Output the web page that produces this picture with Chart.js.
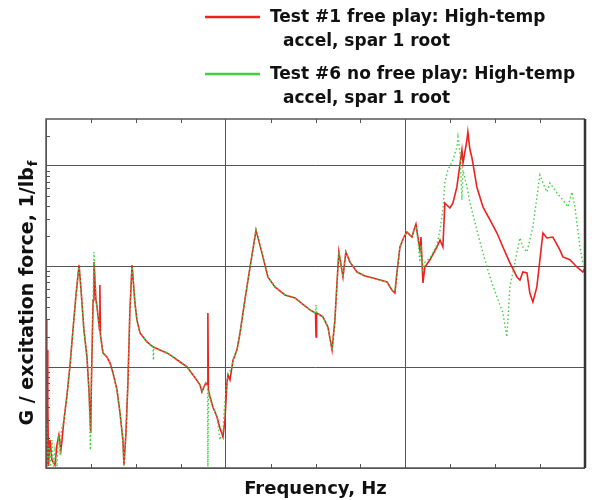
<!DOCTYPE html>
<html>
<head>
<meta charset="utf-8">
<script src="https://cdn.jsdelivr.net/npm/chart.js@4.4.1/dist/chart.umd.min.js"></script>
<style>
  body { margin: 0; background: #fff; }
  canvas { display: block; }
</style>
</head>
<body>
<canvas id="frf-chart" width="592" height="500"></canvas>
<script>
// Test #1 (free play) - frequency and response
const freq1 = [
  0.02, 0.045, 0.07, 0.09, 0.11, 0.14, 0.22, 0.33, 0.50, 0.61,
  0.72, 0.83, 0.89, 1.00, 1.17, 1.34, 1.50, 1.67, 1.84, 1.95,
  2.11, 2.28, 2.39, 2.49, 2.52, 2.62, 2.67, 2.78, 2.84, 2.98,
  3.00, 3.03, 3.17, 3.39, 3.56, 3.73, 3.95, 4.12, 4.28, 4.34,
  4.45, 4.56, 4.67, 4.79, 4.95, 5.06, 5.23, 5.62, 5.95, 6.34,
  6.73, 7.07, 7.46, 7.85, 8.18, 8.57, 8.68, 8.79, 8.90, 8.99,
  9.01, 9.04, 9.13, 9.29, 9.52, 9.68, 9.85, 9.96, 10.07, 10.13,
  10.24, 10.35, 10.41, 10.63, 10.80, 11.07, 11.35, 11.69, 12.02, 12.35,
  12.74, 13.30, 13.86, 14.13, 14.69, 15.00, 15.03, 15.06, 15.25, 15.41,
  15.69, 15.92, 16.08, 16.19, 16.30, 16.42, 16.53, 16.69, 16.92, 17.31,
  17.75, 18.20, 18.98, 19.25, 19.42, 19.53, 19.70, 19.92, 20.09, 20.26,
  20.37, 20.48, 20.59, 20.70, 20.81, 20.87, 20.98, 21.09, 21.37, 21.76,
  21.93, 22.09, 22.20, 22.48, 22.65, 22.87, 23.15, 23.21, 23.43, 23.48,
  23.60, 23.71, 23.76, 23.98, 24.15, 24.32, 24.71, 25.10, 25.43, 25.82,
  26.21, 26.38, 26.54, 26.77, 26.93, 27.10, 27.32, 27.49, 27.66, 27.88,
  28.21, 28.60, 28.77, 29.16, 29.55, 29.88, 30.00
];
const resp1 = [
  0.0296, 0.00103, 0.0149, 0.00120, 0.0045, 0.00105, 0.00190, 0.00120, 0.00107, 0.00170,
  0.00213, 0.00151, 0.00190, 0.00300, 0.00532, 0.0106, 0.0235, 0.0524, 0.104, 0.0587,
  0.0235, 0.0127, 0.00597, 0.00223, 0.00597, 0.0467, 0.111, 0.0467, 0.0398, 0.0235,
  0.0658, 0.0210, 0.0139, 0.0127, 0.0111, 0.00879, 0.00597, 0.00352, 0.00190, 0.00107,
  0.00223, 0.00700, 0.0372, 0.104, 0.0436, 0.0296, 0.0220, 0.0179, 0.0160, 0.0149,
  0.0139, 0.0127, 0.0113, 0.0101, 0.00841, 0.00669, 0.00570, 0.00638, 0.00700, 0.00669,
  0.0347, 0.00597, 0.00508, 0.00404, 0.00321, 0.00250, 0.00204, 0.00300, 0.00700, 0.00841,
  0.00750, 0.0101, 0.0118, 0.0149, 0.0220, 0.0467, 0.097, 0.231, 0.137, 0.0790,
  0.0629, 0.0524, 0.0489, 0.0446, 0.0372, 0.0347, 0.0200, 0.0347, 0.0331, 0.0317,
  0.0252, 0.0149, 0.0296, 0.0658, 0.140, 0.104, 0.0790, 0.140, 0.111, 0.0885,
  0.0809, 0.0772, 0.0705, 0.0587, 0.0548, 0.0866, 0.157, 0.197, 0.221, 0.206,
  0.197, 0.231, 0.265, 0.197, 0.147, 0.197, 0.0689, 0.0993, 0.117, 0.157,
  0.184, 0.157, 0.429, 0.383, 0.429, 0.619, 1.44, 1.07, 1.81, 2.18,
  1.44, 1.20, 1.07, 0.619, 0.492, 0.392, 0.291, 0.216, 0.157, 0.109,
  0.0790, 0.0738, 0.0885, 0.0866, 0.0548, 0.0446, 0.0629, 0.117, 0.216, 0.193,
  0.197, 0.147, 0.125, 0.117, 0.0993, 0.0885, 0.097
];

// Test #6 (no free play)
const freq6 = [
  0.03, 0.08, 0.17, 0.25, 0.33, 0.42, 0.50, 0.61, 0.70, 0.78,
  0.86, 1.00, 1.17, 1.34, 1.50, 1.67, 1.84, 1.95, 2.11, 2.28,
  2.39, 2.47, 2.52, 2.62, 2.67, 2.78, 2.84, 3.00, 3.17, 3.39,
  3.56, 3.73, 3.95, 4.12, 4.28, 4.34, 4.45, 4.56, 4.67, 4.79,
  4.95, 5.06, 5.23, 5.62, 5.95, 5.98, 6.01, 6.34, 6.73, 7.07,
  7.46, 7.85, 8.18, 8.57, 8.68, 8.79, 8.90, 8.99, 9.01, 9.04,
  9.13, 9.29, 9.52, 9.68, 9.85, 9.96, 10.07, 10.13, 10.35, 10.41,
  10.63, 10.80, 11.07, 11.35, 11.69, 12.02, 12.35, 12.74, 13.30, 13.86,
  14.13, 14.69, 15.00, 15.03, 15.06, 15.25, 15.41, 15.69, 15.92, 16.08,
  16.19, 16.30, 16.42, 16.53, 16.69, 16.92, 17.31, 17.75, 18.20, 18.98,
  19.25, 19.42, 19.53, 19.70, 19.92, 20.09, 20.26, 20.37, 20.48, 20.59,
  20.70, 20.81, 20.87, 20.98, 21.09, 21.37, 21.76, 21.93, 22.09, 22.20,
  22.37, 22.65, 22.87, 22.93, 23.04, 23.15, 23.21, 23.43, 23.60, 23.98,
  24.32, 24.71, 25.10, 25.43, 25.65, 25.82, 26.21, 26.38, 26.54, 26.77,
  27.10, 27.49, 27.66, 27.88, 28.05, 28.44, 28.77, 29.05, 29.27, 29.44,
  29.72, 29.88, 30.00
];
const resp6 = [
  0.00300, 0.00103, 0.00170, 0.00103, 0.00190, 0.00103, 0.00151, 0.00103, 0.00213, 0.00135,
  0.00239, 0.00300, 0.00532, 0.0106, 0.0235, 0.0524, 0.104, 0.0587, 0.0235, 0.0127,
  0.00597, 0.00151, 0.00597, 0.0467, 0.140, 0.0467, 0.0398, 0.0220, 0.0139, 0.0127,
  0.0111, 0.00879, 0.00597, 0.00352, 0.00190, 0.00103, 0.00223, 0.00700, 0.0372, 0.104,
  0.0436, 0.0296, 0.0220, 0.0179, 0.0160, 0.0118, 0.0160, 0.0149, 0.0139, 0.0127,
  0.0113, 0.0101, 0.00841, 0.00669, 0.00570, 0.00638, 0.00700, 0.00669, 0.00103, 0.00597,
  0.00508, 0.00404, 0.00321, 0.00190, 0.00239, 0.00475, 0.00700, 0.00841, 0.0101, 0.0118,
  0.0149, 0.0220, 0.0467, 0.097, 0.231, 0.137, 0.0790, 0.0629, 0.0524, 0.0489,
  0.0446, 0.0372, 0.0347, 0.0417, 0.0347, 0.0331, 0.0317, 0.0252, 0.0149, 0.0296,
  0.0658, 0.140, 0.104, 0.0790, 0.140, 0.111, 0.0885, 0.0809, 0.0772, 0.0705,
  0.0587, 0.0587, 0.0866, 0.157, 0.197, 0.221, 0.206, 0.197, 0.231, 0.253,
  0.184, 0.111, 0.164, 0.0885, 0.111, 0.122, 0.164, 0.231, 0.366, 0.694,
  0.913, 1.15, 1.54, 1.94, 1.35, 0.460, 0.913, 0.619, 0.429, 0.231,
  0.137, 0.0790, 0.0500, 0.0347, 0.0200, 0.0629, 0.137, 0.193, 0.157, 0.140,
  0.248, 0.814, 0.678, 0.552, 0.678, 0.539, 0.460, 0.392, 0.552, 0.392,
  0.157, 0.109, 0.104
];

const label1 = ['Test #1 free play: High-temp', 'accel, spar 1 root'];
const label6 = ['Test #6 no free play: High-temp', 'accel, spar 1 root'];
const yGridValues = [0.001, 0.01, 0.1, 1];
const yTitle = 'G / excitation force, 1/lb';
const yTitleSub = 'f';

const boldFont = size => 'bold ' + size + 'px "DejaVu Sans"';

// frame, inside minor ticks, rotated y title with subscript, two-line legend
const decorations = {
  id: 'decorations',
  afterDraw(chart) {
    const ctx = chart.ctx, a = chart.chartArea;
    const xs = chart.scales.x, ys = chart.scales.y;
    ctx.save();

    ctx.strokeStyle = '#555';
    ctx.lineWidth = 1.5;
    ctx.beginPath();
    ctx.moveTo(a.right, a.top); ctx.lineTo(a.left, a.top);
    ctx.lineTo(a.left, a.bottom); ctx.lineTo(a.right, a.bottom);
    ctx.stroke();
    ctx.strokeStyle = '#333';
    ctx.lineWidth = 2.5;
    ctx.beginPath();
    ctx.moveTo(a.right, a.top); ctx.lineTo(a.right, a.bottom);
    ctx.stroke();

    ctx.strokeStyle = '#555';
    ctx.lineWidth = 1;
    ctx.beginPath();
    for (let v = 2.5; v < 30; v += 2.5) {
      if (v % 10 === 0) continue;
      const px = Math.round(xs.getPixelForValue(v)) + 0.5;
      ctx.moveTo(px, a.top); ctx.lineTo(px, a.top + 4);
      ctx.moveTo(px, a.bottom); ctx.lineTo(px, a.bottom - 4);
    }
    yGridValues.forEach(d => {
      for (let m = 2; m <= 9; m++) {
        const v = d * m;
        if (v > ys.max) break;
        const py = Math.round(ys.getPixelForValue(v)) + 0.5;
        ctx.moveTo(a.left, py); ctx.lineTo(a.left + 4, py);
      }
    });
    ctx.stroke();

    // y axis title
    ctx.fillStyle = '#111';
    ctx.translate(33, (a.top + a.bottom) / 2);
    ctx.rotate(-Math.PI / 2);
    ctx.font = boldFont(19);
    const w1 = ctx.measureText(yTitle).width;
    ctx.font = boldFont(13);
    const w2 = ctx.measureText(yTitleSub).width;
    ctx.textBaseline = 'alphabetic';
    ctx.font = boldFont(19);
    ctx.fillText(yTitle, -(w1 + w2) / 2, 0);
    ctx.font = boldFont(13);
    ctx.fillText(yTitleSub, -(w1 + w2) / 2 + w1 + 1, 4);
    ctx.restore();

    // legend
    ctx.save();
    ctx.font = boldFont(17);
    ctx.textBaseline = 'middle';
    ctx.fillStyle = '#111';
    const rows = [17, 74];
    chart.data.datasets.forEach((ds, i) => {
      const y = rows[i];
      ctx.strokeStyle = ds.borderColor;
      ctx.lineWidth = 2.5;
      ctx.beginPath();
      ctx.moveTo(205, y); ctx.lineTo(260, y);
      ctx.stroke();
      ctx.fillText(ds.label[0], 270, y + 1);
      ctx.fillText(ds.label[1], 283, y + 25);
    });
    ctx.restore();
  }
};

new Chart(document.getElementById('frf-chart'), {
  type: 'line',
  data: {
    datasets: [{
      label: label1,
      data: freq1.map((f, i) => ({ x: f, y: resp1[i] })),
      borderColor: '#ee2020',
      borderWidth: 1.6,
      pointRadius: 0,
      order: 1
    }, {
      label: label6,
      data: freq6.map((f, i) => ({ x: f, y: resp6[i] })),
      borderColor: '#3dd23d',
      borderWidth: 1.4,
      borderDash: [1.5, 2.5],
      pointRadius: 0,
      order: 0
    }]
  },
  options: {
    responsive: false,
    animation: false,
    devicePixelRatio: 1,
    layout: { padding: { top: 119, right: 7, left: 0, bottom: 0 } },
    plugins: {
      legend: { display: false },
      tooltip: { enabled: false }
    },
    scales: {
      x: {
        type: 'linear',
        min: 0,
        max: 30,
        ticks: { display: false, stepSize: 10 },
        grid: { color: '#555', lineWidth: 1, drawTicks: false },
        border: { display: false },
        title: {
          display: true,
          text: 'Frequency, Hz',
          color: '#111',
          font: { family: 'DejaVu Sans', weight: 'bold', size: 18 },
          padding: { top: 0, bottom: 0 }
        },
        afterFit: s => { s.height = 32; }
      },
      y: {
        type: 'logarithmic',
        min: 0.001,
        max: 2.93,
        ticks: { display: false },
        grid: { color: '#555', lineWidth: 1, drawTicks: false },
        border: { display: false },
        afterBuildTicks: s => { s.ticks = yGridValues.map(v => ({ value: v })); },
        afterFit: s => { s.width = 46; }
      }
    }
  },
  plugins: [decorations]
});
</script>
</body>
</html>
